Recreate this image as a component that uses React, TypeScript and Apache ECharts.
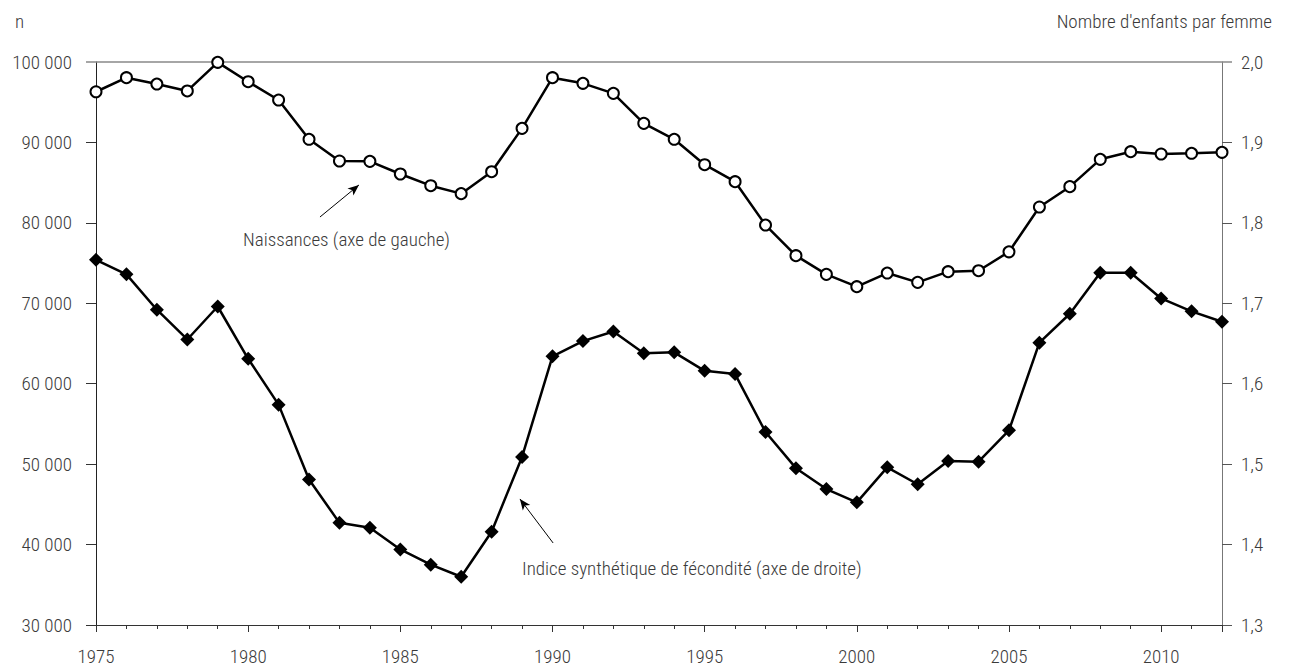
import React, { useEffect, useRef } from "react";
import * as echarts from "echarts";

const years = [1975, 1976, 1977, 1978, 1979, 1980, 1981, 1982, 1983, 1984, 1985, 1986, 1987, 1988, 1989, 1990, 1991, 1992, 1993, 1994, 1995, 1996, 1997, 1998, 1999, 2000, 2001, 2002, 2003, 2004, 2005, 2006, 2007, 2008, 2009, 2010, 2011, 2012];

const births = [96300, 98050, 97260, 96400, 99960, 97550, 95270, 90390, 87690, 87650, 86075, 84620, 83630, 86360, 91750, 98050, 97350, 96100, 92370, 90390, 87230, 85120, 79730, 75920, 73600, 72065, 73760, 72600, 73930, 74050, 76400, 81970, 84500, 87900, 88850, 88560, 88650, 88770];

const isf = [1.754, 1.736, 1.692, 1.655, 1.696, 1.631, 1.574, 1.481, 1.427, 1.421, 1.394, 1.375, 1.36, 1.416, 1.509, 1.634, 1.653, 1.665, 1.638, 1.639, 1.616, 1.612, 1.54, 1.495, 1.469, 1.4525, 1.496, 1.475, 1.504, 1.503, 1.542, 1.651, 1.687, 1.738, 1.738, 1.706, 1.69, 1.677];

const leftTicks = [30000, 40000, 50000, 60000, 70000, 80000, 90000];
const rightTicks = [1.3, 1.4, 1.5, 1.6, 1.7, 1.8, 1.9];

const birthsLabel = "Naissances (axe de gauche)";
const isfLabel = "Indice synthétique de fécondité (axe de droite)";
const leftName = "n";
const rightName = "Nombre d'enfants par femme";

// annotation arrows, in data coordinates
const birthsArrow = [[1982.36, 80728], [1983.64, 84707]];
const isfArrow = [[1990.02, 1.402], [1988.93, 1.4567]];

const FONT = "'Roboto Condensed', 'Liberation Sans', sans-serif";
const TXT = "#3a3a3a";
const FS = 19;
const FW = 300;

export default function App() {
  const ref = useRef<HTMLDivElement>(null);
  useEffect(() => {
    document.body.style.margin = "0";
    const chart = echarts.init(ref.current!, null, { renderer: "svg" });
    const arrowLine = (pts: number[][]) => ({
      silent: true,
      symbol: ["none", "arrow"],
      symbolSize: 10,
      label: { show: false },
      itemStyle: { color: "#000" },
      lineStyle: { color: "#000", width: 1, type: "solid" },
      emphasis: { disabled: true },
      data: [
        [
          { coord: pts[0], symbol: "none" },
          { coord: pts[1], symbol: "arrow", symbolSize: [7, 11] },
        ],
      ],
    });
    chart.setOption({
      animation: false,
      textStyle: { fontFamily: FONT },
      grid: { left: 96, right: 67, top: 62, bottom: 42, containLabel: false },
      xAxis: [
        {
          type: "value",
          min: 1975,
          max: 2012,
          interval: 5,
          position: "bottom",
          axisLine: { show: true, lineStyle: { color: "#333", width: 1 } },
          axisTick: { show: true, length: 7, inside: false, lineStyle: { color: "#333" } },
          axisLabel: {
            show: true,
            margin: 22,
            fontSize: FS,
            fontWeight: FW,
            color: TXT,
            fontFamily: FONT,
            formatter: (v: number) => (v % 5 === 0 ? String(v) : ""),
          },
          splitLine: { show: false },
        },
        {
          type: "value",
          min: 1975,
          max: 2012,
          interval: 1,
          position: "bottom",
          axisLine: { show: false },
          axisTick: { show: true, length: 4, lineStyle: { color: "#333" } },
          axisLabel: { show: false },
          splitLine: { show: false },
        },
      ],
      yAxis: [
        {
          type: "value",
          min: 30000,
          max: 100000,
          interval: 10000,
          position: "left",
          axisLine: { show: true, onZero: false, lineStyle: { color: "#222", width: 1 } },
          axisTick: { show: true, length: 10, customValues: leftTicks, lineStyle: { color: "#333" } },
          axisLabel: {
            margin: 24,
            fontSize: FS,
            fontWeight: FW,
            color: TXT,
            fontFamily: FONT,
            formatter: (v: number) => String(Math.round(v)).replace(/(\d)(\d{3})$/, "$1 $2"),
          },
          splitLine: { show: false },
        },
        {
          type: "value",
          min: 1.3,
          max: 2.0,
          interval: 0.1,
          position: "right",
          axisLine: { show: true, onZero: false, lineStyle: { color: "#777", width: 1 } },
          axisTick: { show: true, length: 10, customValues: rightTicks, lineStyle: { color: "#555" } },
          axisLabel: {
            margin: 19,
            fontSize: FS,
            fontWeight: FW,
            color: TXT,
            fontFamily: FONT,
            formatter: (v: number) => v.toFixed(1).replace(".", ","),
          },
          splitLine: { show: false },
        },
      ],
      series: [
        {
          name: birthsLabel,
          type: "line",
          xAxisIndex: 0,
          yAxisIndex: 0,
          data: years.map((y, i) => [y, births[i]]),
          symbol: "circle",
          symbolSize: 11,
          showAllSymbol: true,
          lineStyle: { color: "#000", width: 2.5 },
          itemStyle: { color: "#fff", borderColor: "#000", borderWidth: 2 },
          z: 3,
          markLine: arrowLine(birthsArrow),
        },
        {
          name: isfLabel,
          type: "line",
          xAxisIndex: 0,
          yAxisIndex: 1,
          data: years.map((y, i) => [y, isf[i]]),
          symbol: "diamond",
          symbolSize: 14,
          showAllSymbol: true,
          lineStyle: { color: "#000", width: 2.5 },
          itemStyle: { color: "#000", borderColor: "#000", borderWidth: 0 },
          z: 3,
          markLine: arrowLine(isfArrow),
        },
      ],
      graphic: [
        {
          type: "text",
          left: 15,
          top: 12,
          style: { text: leftName, fontSize: FS, fontWeight: FW, fill: TXT, fontFamily: FONT },
        },
        {
          type: "text",
          right: 17,
          top: 12,
          style: { text: rightName, fontSize: FS, fontWeight: FW, fill: TXT, fontFamily: FONT },
        },
        {
          type: "text",
          left: 243,
          top: 230,
          style: { text: birthsLabel, fontSize: FS, fontWeight: FW, fill: TXT, fontFamily: FONT },
        },
        {
          type: "text",
          left: 522,
          top: 559,
          style: { text: isfLabel, fontSize: FS, fontWeight: FW, fill: TXT, fontFamily: FONT },
        },
      ],
    });
    const yTop = chart.convertToPixel({ yAxisIndex: 0 }, 100000) as number;
    const xL = chart.convertToPixel({ xAxisIndex: 0 }, 1975) as number;
    const xR = chart.convertToPixel({ xAxisIndex: 0 }, 2012) as number;
    chart.setOption({
      graphic: [
        {
          id: "topline",
          type: "line",
          z: 1,
          shape: { x1: xL - 10, y1: yTop, x2: xR + 10, y2: yTop },
          style: { stroke: "#888", lineWidth: 1.5 },
        },
      ],
    });
    return () => chart.dispose();
  }, []);
  return <div ref={ref} style={{ width: 1289, height: 667 }} />;
}
